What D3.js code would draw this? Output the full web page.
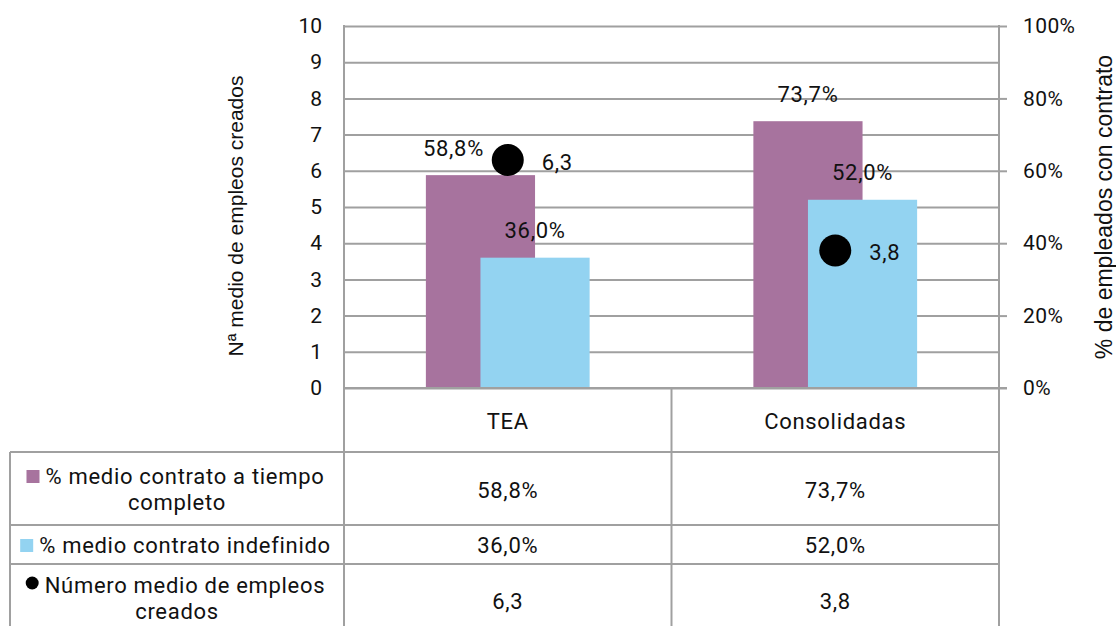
<!DOCTYPE html>
<html>
<head>
<meta charset="utf-8">
<script src="https://cdn.jsdelivr.net/npm/d3@7"></script>
<style>
  html, body { margin: 0; padding: 0; background: #fff; }
  svg { display: block; }
  text { font-family: Roboto, "Noto Sans", sans-serif; fill: #111; }
  .title { font-family: "Liberation Sans", Arial, sans-serif; }
</style>
</head>
<body>
<svg id="chart" width="1116" height="626"></svg>
<script>
// ---- data ----
const categories = ["TEA", "Consolidadas"];
const fullTime = [0.588, 0.737];      // % medio contrato a tiempo completo
const indefinite = [0.360, 0.520];    // % medio contrato indefinido
const jobs = [6.3, 3.8];              // Número medio de empleos creados
const leftTicks = [0, 1, 2, 3, 4, 5, 6, 7, 8, 9, 10];
const rightTicks = [0, 0.2, 0.4, 0.6, 0.8, 1.0];
const seriesNames = [["% medio contrato a tiempo", "completo"], ["% medio contrato indefinido"], ["Número medio de empleos", "creados"]];
const leftTitle = "Nª medio de empleos creados";
const rightTitle = "% de empleados con contrato";

// ---- layout ----
const svg = d3.select("#chart");
const L = 344, R = 999, T = 26, B = 388;
const colPurple = "#A7739E", colBlue = "#93D3F1", gridCol = "#A0A0A0";
const fs = 22, ls = "0.7px";

const x = d3.scaleBand().domain(categories).range([L, R]).padding(0);
const yL = d3.scaleLinear().domain([0, 10]).range([B, T]);
const yR = d3.scaleLinear().domain([0, 1]).range([B, T]);
const bw = x.bandwidth() / 3;
const fmtPct = v => d3.format(".1f")(v * 100).replace(".", ",") + "%";
const fmtNum = v => d3.format(".1f")(v).replace(".", ",");

// gridlines
svg.append("g").attr("transform", `translate(${L},0)`)
  .call(d3.axisLeft(yL).tickValues(leftTicks).tickSize(-(R - L)).tickFormat(""))
  .call(g => g.select(".domain").remove())
  .call(g => g.selectAll("line").attr("stroke", gridCol).attr("stroke-width", 2));

// left tick labels
svg.append("g").attr("transform", `translate(${L},0)`)
  .call(d3.axisLeft(yL).tickValues(leftTicks).tickSize(0).tickPadding(22).tickFormat(d3.format("d")))
  .call(g => g.select(".domain").remove())
  .call(g => g.selectAll("text").attr("font-size", 21).attr("font-family", "Roboto").attr("fill", "#111"));

// bars
const bars = svg.append("g");
bars.selectAll("rect.p").data(categories).join("rect")
  .attr("x", d => x(d) + x.bandwidth() / 2 - 0.75 * bw)
  .attr("width", bw)
  .attr("y", (d, i) => yR(fullTime[i]))
  .attr("height", (d, i) => B - yR(fullTime[i]))
  .attr("fill", colPurple);
bars.selectAll("rect.b").data(categories).join("rect")
  .attr("x", d => x(d) + x.bandwidth() / 2 - 0.25 * bw)
  .attr("width", bw)
  .attr("y", (d, i) => yR(indefinite[i]))
  .attr("height", (d, i) => B - yR(indefinite[i]))
  .attr("fill", colBlue);

// plot side lines
svg.append("line").attr("x1", L).attr("x2", L).attr("y1", T - 1).attr("y2", B).attr("stroke", gridCol).attr("stroke-width", 2);
svg.append("line").attr("x1", R).attr("x2", R).attr("y1", T - 1).attr("y2", B).attr("stroke", gridCol).attr("stroke-width", 2);

// right axis
svg.append("g").attr("transform", `translate(${R},0)`)
  .call(d3.axisRight(yR).tickValues(rightTicks).tickSize(8).tickPadding(16).tickFormat(d3.format(".0%")))
  .call(g => g.select(".domain").remove())
  .call(g => g.selectAll("line").attr("stroke", gridCol).attr("stroke-width", 2))
  .call(g => g.selectAll("text").attr("font-size", 21).attr("font-family", "Roboto").attr("fill", "#111").attr("letter-spacing", "0.4px"));

// bar labels
const lab = svg.append("g").attr("font-size", fs).attr("letter-spacing", ls).attr("text-anchor", "middle");
categories.forEach((c, i) => {
  const cx = x(c) + x.bandwidth() / 2;
  const dx = i === 0 ? -27 : 0;
  lab.append("text").attr("x", cx - 0.25 * bw + dx).attr("y", yR(fullTime[i]) - 27).attr("dy", "0.35em").text(fmtPct(fullTime[i]));
  lab.append("text").attr("x", cx + 0.25 * bw).attr("y", yR(indefinite[i]) - 27).attr("dy", "0.35em").text(fmtPct(indefinite[i]));
});

// dots
svg.append("g").selectAll("circle").data(categories).join("circle")
  .attr("cx", d => x(d) + x.bandwidth() / 2)
  .attr("cy", (d, i) => yL(jobs[i]))
  .attr("r", 16).attr("fill", "#000");
svg.append("g").attr("font-size", fs).attr("letter-spacing", ls).selectAll("text").data(categories).join("text")
  .attr("x", d => x(d) + x.bandwidth() / 2 + 34)
  .attr("y", (d, i) => yL(jobs[i]) + 2)
  .attr("dy", "0.35em")
  .text((d, i) => fmtNum(jobs[i]));

// axis titles
svg.append("text").attr("class", "title").attr("font-size", 21).attr("text-anchor", "middle")
  .attr("transform", `translate(243,${(T + B) / 2 + 9}) rotate(-90)`).text(leftTitle);
svg.append("text").attr("class", "title").attr("font-size", 23).attr("text-anchor", "middle")
  .attr("transform", `translate(1112,${(T + B) / 2}) rotate(-90)`).text(rightTitle);

// ---- data table ----
const TL = 10;
const tbl = svg.append("g").attr("stroke", gridCol).attr("stroke-width", 2);
tbl.append("line").attr("x1", L).attr("x2", R + 8).attr("y1", B).attr("y2", B);
[452, 525, 564].forEach(yv => tbl.append("line").attr("x1", TL).attr("x2", R).attr("y1", yv).attr("y2", yv));
tbl.append("line").attr("x1", TL).attr("x2", TL).attr("y1", 452).attr("y2", 640);
[L, L + x.bandwidth(), R].forEach(xv => tbl.append("line").attr("x1", xv).attr("x2", xv).attr("y1", B).attr("y2", 640));

const tt = svg.append("g").attr("font-size", fs).attr("letter-spacing", ls).attr("text-anchor", "middle");
categories.forEach(c => {
  tt.append("text").attr("x", x(c) + x.bandwidth() / 2).attr("y", 421).attr("dy", "0.35em").text(c);
});
const valRowsY = [490, 545, 601];
const rowData = [fullTime.map(fmtPct), indefinite.map(fmtPct), jobs.map(fmtNum)];
rowData.forEach((vals, r) => {
  categories.forEach((c, i) => {
    tt.append("text").attr("x", x(c) + x.bandwidth() / 2).attr("y", valRowsY[r]).attr("dy", "0.35em").text(vals[i]);
  });
});

// row headers with legend keys
const lineYs = [[476, 502], [545], [585, 611]];
const colMid = (TL + L) / 2;
seriesNames.forEach((lines, r) => {
  lines.forEach((ln, k) => {
    const t = tt.append("text").attr("x", colMid + (k === 0 ? 8 : 0)).attr("y", lineYs[r][k]).attr("dy", "0.35em").text(ln);
    if (k === 0) {
      const bb = t.node().getBBox();
      const kx = bb.x - 19, ky = lineYs[r][k];
      if (r === 0) svg.append("rect").attr("x", kx).attr("y", ky - 6).attr("width", 13).attr("height", 13).attr("fill", colPurple);
      if (r === 1) svg.append("rect").attr("x", kx).attr("y", ky - 6).attr("width", 13).attr("height", 13).attr("fill", colBlue);
      if (r === 2) svg.append("circle").attr("cx", kx + 6.5).attr("cy", ky - 2).attr("r", 6.5).attr("fill", "#000");
    }
  });
});
</script>
</body>
</html>
